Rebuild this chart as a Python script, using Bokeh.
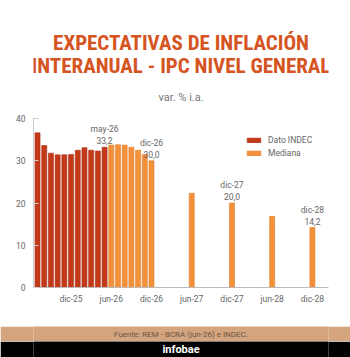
from bokeh.plotting import figure
from bokeh.models import Range1d, FixedTicker, Legend, LegendItem, ColumnDataSource
from bokeh.layouts import column
from bokeh.core.properties import value
from bokeh.embed import file_html
from bokeh.resources import INLINE

# --- data -------------------------------------------------------------
indec_months = ["jul-25", "ago-25", "sep-25", "oct-25", "nov-25", "dic-25",
                "ene-26", "feb-26", "mar-26", "abr-26", "may-26"]
indec_values = [36.6, 33.6, 31.8, 31.4, 31.4, 31.5, 32.5, 33.1, 32.5, 32.3, 33.2]

mediana_months = ["jun-26", "jul-26", "ago-26", "sep-26", "oct-26", "nov-26", "dic-26",
                  "jun-27", "dic-27", "jun-28", "dic-28"]
mediana_values = [33.7, 33.8, 33.7, 33.2, 32.5, 31.5, 30.0, 22.3, 20.0, 16.8, 14.2]

tick_labels = ["dic-25", "jun-26", "dic-26", "jun-27", "dic-27", "jun-28", "dic-28"]
highlight_months = ["may-26", "dic-26", "dic-27", "dic-28"]

title_lines = ["EXPECTATIVAS DE INFLACIÓN", "INTERANUAL - IPC NIVEL GENERAL"]
subtitle = "var. % i.a."
source_note = "Fuente: REM - BCRA (jun-26) e INDEC."
brand = "infobae"

# --- helpers ----------------------------------------------------------
MONTHS = ["ene", "feb", "mar", "abr", "may", "jun", "jul", "ago", "sep", "oct", "nov", "dic"]


def month_pos(label):
    """Months elapsed since jul-25 for a label such as 'dic-26'."""
    m, y = label.split("-")
    return (2000 + int(y)) * 12 + MONTHS.index(m) - (2025 * 12 + 6)


def fmt(v):
    return f"{v:.1f}".replace(".", ",")


RED = "#C43A18"
RED_EDGE = "#A9301A"
ORANGE = "#F2913A"
ORANGE_EDGE = "#E27F2A"
TITLE_COLOR = "#D5541F"
TEXT_GRAY = "#666666"
FONT = value("Roboto")

# --- header -----------------------------------------------------------
head = figure(width=350, height=108, x_range=Range1d(0, 350), y_range=Range1d(108, 0),
              toolbar_location=None, output_backend="svg", min_border=0,
              x_axis_location=None, y_axis_location=None)
head.grid.visible = False
head.outline_line_color = None
head.text(x=[175, 175], y=[42, 65], text=title_lines,
          text_font=value("Roboto Condensed"), text_font_style="bold",
          text_font_size="21px", text_color=TITLE_COLOR,
          text_align="center", text_baseline="middle")
head.text(x=[175], y=[97], text=[subtitle], text_font=FONT, text_font_size="11px",
          text_color="#777777", text_align="center", text_baseline="middle")

# --- chart ------------------------------------------------------------
p = figure(width=350, height=218, x_range=Range1d(-0.6, 43.4), y_range=Range1d(0, 40),
           toolbar_location=None, output_backend="svg",
           min_border_left=33, min_border_right=22, min_border_top=10, min_border_bottom=39)
p.outline_line_color = None
p.grid.visible = False

indec_src = ColumnDataSource(dict(x=[month_pos(m) for m in indec_months], top=indec_values))
med_src = ColumnDataSource(dict(x=[month_pos(m) for m in mediana_months], top=mediana_values))

r_indec = p.vbar(x="x", top="top", width=0.75, source=indec_src,
                 fill_color=RED, line_color=RED_EDGE, line_width=0.6)
r_med = p.vbar(x="x", top="top", width=0.75, source=med_src,
               fill_color=ORANGE, line_color=ORANGE_EDGE, line_width=0.6)

# value callouts
all_months = indec_months + mediana_months
all_values = indec_values + mediana_values
hx = [month_pos(m) for m in highlight_months]
hv = [all_values[all_months.index(m)] for m in highlight_months]
p.text(x=hx, y=hv, text=[fmt(v) for v in hv], y_offset=-3,
       text_font=FONT, text_font_size="8.5px", text_color=TEXT_GRAY,
       text_align="center", text_baseline="bottom")
p.text(x=hx, y=hv, text=highlight_months, y_offset=-13,
       text_font=FONT, text_font_size="8.5px", text_color=TEXT_GRAY,
       text_align="center", text_baseline="bottom")

# axes
p.xaxis.ticker = FixedTicker(ticks=[month_pos(t) for t in tick_labels])
p.xaxis.major_label_overrides = {month_pos(t): t for t in tick_labels}
p.xaxis.major_tick_out = 0
p.xaxis.major_tick_in = 0
p.xaxis.minor_tick_out = 0
p.xaxis.axis_line_color = "#BBBBBB"
p.xaxis.major_label_standoff = 6

p.yaxis.ticker = FixedTicker(ticks=[0, 10, 20, 30, 40])
p.yaxis.major_tick_out = 0
p.yaxis.major_tick_in = 5
p.yaxis.minor_tick_out = 0
p.yaxis.minor_tick_in = 0
p.yaxis.axis_line_color = "#CCCCCC"
p.yaxis.major_tick_line_color = "#CCCCCC"
p.yaxis.major_label_standoff = 8

for ax in (p.xaxis[0], p.yaxis[0]):
    ax.major_label_text_font = "Roboto"
    ax.major_label_text_font_size = "8.5px"
    ax.major_label_text_color = TEXT_GRAY

legend = Legend(items=[LegendItem(label="Dato INDEC", renderers=[r_indec]),
                       LegendItem(label="Mediana", renderers=[r_med])],
                location=(212, 128), orientation="vertical",
                glyph_width=17, glyph_height=6, label_height=13, spacing=0,
                label_standoff=6, padding=0, margin=0,
                border_line_color=None, background_fill_alpha=0,
                label_text_font="Roboto", label_text_font_size="8.5px",
                label_text_color=TEXT_GRAY)
p.add_layout(legend)

# --- footer -----------------------------------------------------------
src_band = figure(width=350, height=15, x_range=Range1d(0, 350), y_range=Range1d(0, 15),
                  toolbar_location=None, output_backend="svg", min_border=0,
                  x_axis_location=None, y_axis_location=None,
                  background_fill_color="#D4A47F", border_fill_color="#D4A47F")
src_band.grid.visible = False
src_band.outline_line_color = None
src_band.text(x=[175], y=[7.5], text=[source_note], text_font=FONT, text_font_size="8px",
              text_color="#6B5442", text_align="center", text_baseline="middle")

brand_band = figure(width=350, height=16, x_range=Range1d(0, 350), y_range=Range1d(0, 16),
                    toolbar_location=None, output_backend="svg", min_border=0,
                    x_axis_location=None, y_axis_location=None,
                    background_fill_color="#000000", border_fill_color="#000000")
brand_band.grid.visible = False
brand_band.outline_line_color = None
brand_band.text(x=[175], y=[8], text=[brand], text_font=FONT, text_font_style="bold",
                text_font_size="11px", text_color="#FFFFFF",
                text_align="center", text_baseline="middle")

page = column(head, p, src_band, brand_band, spacing=0)

open("out.html", "w").write(file_html(page, INLINE))
